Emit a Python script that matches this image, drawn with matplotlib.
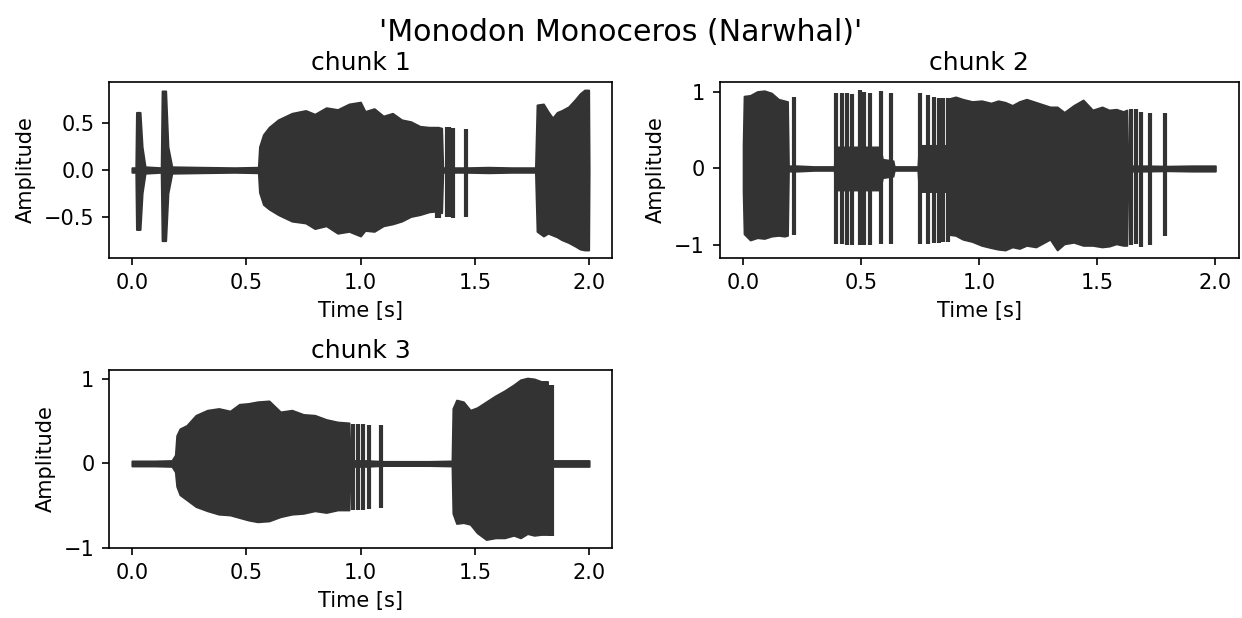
import matplotlib
matplotlib.use("Agg")
import matplotlib.pyplot as plt

title = "'Monodon Monoceros (Narwhal)'"
chunk_titles = ["chunk 1", "chunk 2", "chunk 3"]
xlabel = "Time [s]"
ylabel = "Amplitude"

# ---- chunk 1: envelope (time, upper, lower) ----
c1_t = [0.00, 0.017, 0.020, 0.036, 0.045, 0.058, 0.128, 0.132, 0.148, 0.158, 0.175,
        0.30, 0.45, 0.553, 0.558, 0.575, 0.60, 0.64, 0.70, 0.76, 0.80, 0.85, 0.90,
        0.95, 1.00, 1.02, 1.06, 1.10, 1.14, 1.18, 1.22, 1.26, 1.30, 1.34, 1.355,
        1.36, 1.46, 1.56, 1.66, 1.765, 1.772, 1.80, 1.82, 1.84, 1.86, 1.88, 1.91,
        1.94, 1.96, 1.98, 1.998, 2.0]
c1_up = [0.025, 0.025, 0.62, 0.62, 0.25, 0.035, 0.025, 0.85, 0.85, 0.25, 0.035,
         0.03, 0.025, 0.03, 0.25, 0.38, 0.46, 0.54, 0.61, 0.64, 0.60, 0.67, 0.65,
         0.71, 0.73, 0.63, 0.66, 0.58, 0.61, 0.54, 0.52, 0.47, 0.46, 0.46, 0.45,
         0.025, 0.025, 0.03, 0.025, 0.025, 0.70, 0.71, 0.63, 0.56, 0.62, 0.64, 0.68,
         0.76, 0.82, 0.86, 0.86, 0.025]
c1_lo = [-0.025, -0.025, -0.64, -0.64, -0.25, -0.035, -0.025, -0.76, -0.76, -0.25, -0.035,
         -0.03, -0.025, -0.03, -0.24, -0.37, -0.42, -0.48, -0.55, -0.57, -0.63, -0.60, -0.68,
         -0.66, -0.71, -0.65, -0.66, -0.60, -0.58, -0.55, -0.50, -0.48, -0.45, -0.44, -0.46,
         -0.025, -0.025, -0.03, -0.025, -0.025, -0.66, -0.71, -0.68, -0.70, -0.72, -0.75, -0.78,
         -0.82, -0.85, -0.86, -0.86, -0.025]
c1_click_t = [1.335, 1.345, 1.378, 1.388, 1.405, 1.462]
c1_click_top = [0.42, 0.44, 0.46, 0.46, 0.45, 0.44]
c1_click_bot = [-0.52, -0.52, -0.50, -0.51, -0.52, -0.50]

# ---- chunk 2 ----
c2_t = [0.00, 0.004, 0.03, 0.06, 0.09, 0.12, 0.15, 0.175, 0.188, 0.192, 0.23, 0.30,
        0.386, 0.39, 0.58, 0.59, 0.635, 0.64, 0.70, 0.74, 0.745, 0.87, 0.875, 0.90,
        0.93, 0.97, 1.01, 1.05, 1.08, 1.11, 1.14, 1.17, 1.20, 1.24, 1.27, 1.30,
        1.33, 1.36, 1.40, 1.44, 1.48, 1.52, 1.55, 1.58, 1.61, 1.625, 1.63, 1.70,
        1.80, 1.90, 2.0]
c2_up = [0.30, 0.94, 0.95, 1.00, 1.01, 0.98, 0.90, 0.88, 0.87, 0.035, 0.035, 0.025,
         0.025, 0.28, 0.28, 0.12, 0.10, 0.025, 0.025, 0.025, 0.30, 0.30, 0.91, 0.93,
         0.90, 0.87, 0.88, 0.85, 0.88, 0.86, 0.82, 0.87, 0.90, 0.86, 0.83, 0.80,
         0.80, 0.73, 0.82, 0.89, 0.76, 0.80, 0.76, 0.77, 0.74, 0.76, 0.035, 0.035,
         0.03, 0.035, 0.035]
c2_lo = [-0.30, -0.85, -0.93, -0.90, -0.91, -0.88, -0.87, -0.88, -0.87, -0.035, -0.035, -0.025,
         -0.025, -0.28, -0.28, -0.12, -0.10, -0.025, -0.025, -0.025, -0.30, -0.30, -0.86, -0.87,
         -0.92, -0.95, -1.00, -1.03, -1.05, -1.06, -1.02, -1.04, -1.00, -1.02, -0.97, -0.92,
         -1.06, -0.98, -0.96, -1.00, -1.00, -1.02, -1.01, -0.98, -1.00, -1.00, -0.035, -0.035,
         -0.03, -0.035, -0.035]
c2_click_t = [0.215, 0.395, 0.418, 0.44, 0.461, 0.495, 0.514, 0.537, 0.585, 0.627,
              0.747, 0.785, 0.808, 0.83, 0.847, 0.868, 1.644, 1.665, 1.687, 1.725, 1.785]
c2_click_top = [0.93, 0.98, 0.98, 0.98, 0.97, 1.02, 0.99, 0.98, 1.01, 0.98,
                0.98, 0.95, 0.93, 0.92, 0.92, 0.91, 0.77, 0.77, 0.74, 0.72, 0.72]
c2_click_bot = [-0.87, -0.98, -0.98, -0.99, -0.99, -0.99, -0.99, -1.00, -0.98, -0.98,
                -0.98, -0.98, -0.97, -0.97, -0.96, -0.95, -0.99, -0.98, -1.02, -0.99, -0.88]

# ---- chunk 3 ----
c3_t = [0.00, 0.10, 0.175, 0.19, 0.196, 0.21, 0.24, 0.28, 0.33, 0.38, 0.43, 0.47,
        0.51, 0.55, 0.60, 0.65, 0.70, 0.75, 0.80, 0.85, 0.90, 0.95, 0.955, 1.02,
        1.10, 1.20, 1.30, 1.40, 1.404, 1.42, 1.45, 1.48, 1.51, 1.55, 1.59, 1.63,
        1.67, 1.70, 1.73, 1.76, 1.79, 1.818, 1.822, 1.90, 2.0]
c3_up = [0.03, 0.03, 0.035, 0.10, 0.33, 0.41, 0.45, 0.57, 0.63, 0.65, 0.62, 0.70,
         0.71, 0.73, 0.74, 0.61, 0.63, 0.58, 0.57, 0.52, 0.49, 0.48, 0.035, 0.035,
         0.025, 0.025, 0.025, 0.03, 0.65, 0.75, 0.73, 0.63, 0.66, 0.73, 0.80, 0.86,
         0.93, 0.99, 1.01, 1.00, 0.97, 0.97, 0.035, 0.035, 0.035]
c3_lo = [-0.03, -0.03, -0.035, -0.10, -0.27, -0.37, -0.43, -0.51, -0.56, -0.60, -0.61, -0.64,
         -0.67, -0.69, -0.68, -0.63, -0.60, -0.59, -0.56, -0.58, -0.55, -0.55, -0.035, -0.035,
         -0.025, -0.025, -0.025, -0.03, -0.59, -0.71, -0.70, -0.72, -0.82, -0.90, -0.88, -0.88,
         -0.85, -0.88, -0.83, -0.85, -0.84, -0.84, -0.035, -0.035, -0.035]
c3_click_t = [0.967, 0.99, 1.011, 1.037, 1.09, 1.828, 1.838]
c3_click_top = [0.47, 0.47, 0.47, 0.46, 0.45, 0.93, 0.93]
c3_click_bot = [-0.55, -0.55, -0.55, -0.54, -0.53, -0.86, -0.86]

chunks = [
    (c1_t, c1_up, c1_lo, c1_click_t, c1_click_top, c1_click_bot, [-0.5, 0.0, 0.5]),
    (c2_t, c2_up, c2_lo, c2_click_t, c2_click_top, c2_click_bot, [-1, 0, 1]),
    (c3_t, c3_up, c3_lo, c3_click_t, c3_click_top, c3_click_bot, [-1, 0, 1]),
]

W, H = 1242, 618
fig = plt.figure(figsize=(W / 150, H / 150), dpi=150)
boxes = [
    (109, 612, 82, 258),
    (719.5, 1239, 82, 258),
    (109, 612, 370, 548),
]
color = "#333333"
for (t, up, lo, ct, ctop, cbot, yt), name, (l, r, tp, b) in zip(chunks, chunk_titles, boxes):
    ax = fig.add_axes([l / W, 1 - b / H, (r - l) / W, (b - tp) / H])
    ax.fill_between(t, lo, up, color=color, lw=0.9, edgecolor=color)
    ax.vlines(ct, cbot, ctop, color=color, lw=2.0)
    ax.set_yticks(yt)
    ax.set_xticks([0.0, 0.5, 1.0, 1.5, 2.0])
    ax.set_title(name, fontsize=12)
    ax.set_xlabel(xlabel)
    ax.set_ylabel(ylabel)

fig.suptitle(title, fontsize=14.4, y=1 - 18 / H, va="top")
fig.savefig("out.png", dpi=150)
